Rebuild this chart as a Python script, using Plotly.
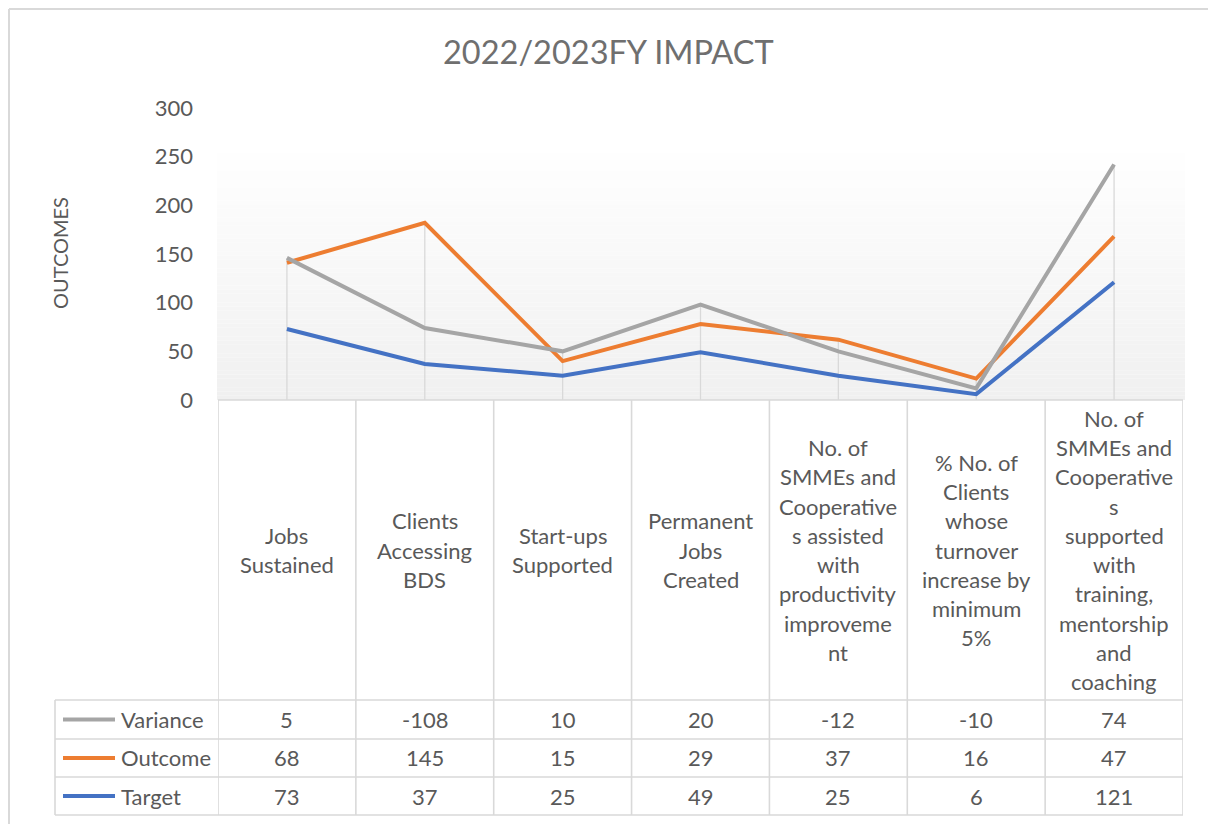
import numpy as np
import plotly.graph_objects as go

# ---------------- data ----------------
categories = [
    "Jobs\nSustained",
    "Clients\nAccessing\nBDS",
    "Start-ups\nSupported",
    "Permanent\nJobs\nCreated",
    "No. of\nSMMEs and\nCooperative\ns assisted\nwith\nproductivity\nimproveme\nnt",
    "% No. of\nClients\nwhose\nturnover\nincrease by\nminimum\n5%",
    "No. of\nSMMEs and\nCooperative\ns\nsupported\nwith\ntraining,\nmentorship\nand\ncoaching",
]
target = [73, 37, 25, 49, 25, 6, 121]
outcome = [68, 145, 15, 29, 37, 16, 47]
variance = [5, -108, 10, 20, -12, -10, 74]
y_ticks = [0, 50, 100, 150, 200, 250, 300]
title_text = "2022/2023FY IMPACT"
y_title = "OUTCOMES"

# ---------------- styling ----------------
FONT = "Lato"
TXT = "#595959"
GRID = "#d9d9d9"
C_VAR, C_OUT, C_TGT = "#a5a5a5", "#ed7d31", "#4472c4"
FS = 22

W, H = 1208, 824
PL, PR, PT, PB = 218, 1183, 108, 400


def xp(px):
    return (px - PL) / (PR - PL)


def yp(py):
    return (PB - py) / (PB - PT)


x = list(range(len(categories)))
stacked = np.cumsum(np.array([target, outcome, variance]), axis=0)
tops = stacked.max(axis=0)

fig = go.Figure()

# drop lines
dx, dy = [], []
for i, t in zip(x, tops):
    dx += [i, i, None]
    dy += [0, t, None]
fig.add_trace(go.Scatter(x=dx, y=dy, mode="lines", line=dict(color=GRID, width=1.3),
                         hoverinfo="skip", showlegend=False))

for name, vals, col in [("Target", target, C_TGT), ("Outcome", outcome, C_OUT), ("Variance", variance, C_VAR)]:
    fig.add_trace(go.Scatter(x=x, y=vals, name=name, mode="lines", stackgroup="s", fill="none",
                             line=dict(color=col, width=4), showlegend=False))

shapes = []
# plot-area gradient
g_top, g_bot, nb = 145, 400, 60
for k in range(nb):
    y0 = g_top + (g_bot - g_top) * k / nb
    y1 = g_top + (g_bot - g_top) * (k + 1) / nb
    f = (k + 0.5) / nb
    c = int(round(255 - 15 * f))
    shapes.append(dict(type="rect", xref="paper", yref="paper", x0=xp(217), x1=xp(1185),
                       y0=yp(y1), y1=yp(y0), fillcolor=f"rgb({c},{c},{c})",
                       line=dict(width=0), layer="below"))

# outer chart border
shapes.append(dict(type="line", xref="paper", yref="paper", x0=xp(9), x1=xp(1230), y0=yp(9), y1=yp(9),
                   line=dict(color=GRID, width=2)))
shapes.append(dict(type="line", xref="paper", yref="paper", x0=xp(9), x1=xp(9), y0=yp(9), y1=yp(830),
                   line=dict(color=GRID, width=2)))

# data table grid
rows = [400, 700, 739, 777, 815]
for r in rows:
    x0 = PL if r == 400 else 55
    shapes.append(dict(type="line", xref="paper", yref="paper", x0=xp(x0), x1=xp(PR), y0=yp(r), y1=yp(r),
                       line=dict(color=GRID, width=1.6)))
for i in range(len(categories) + 1):
    shapes.append(dict(type="line", xref="x", yref="paper", x0=i - 0.5, x1=i - 0.5, y0=yp(400), y1=yp(815),
                       line=dict(color=GRID, width=1.6)))
shapes.append(dict(type="line", xref="paper", yref="paper", x0=xp(55), x1=xp(55), y0=yp(700), y1=yp(815),
                   line=dict(color=GRID, width=1.6)))

annotations = []
# category labels
LS = 29.3
for i, lab in enumerate(categories):
    lines = lab.split("\n")
    n = len(lines)
    for k, ln in enumerate(lines):
        cy = 550 + (k - (n - 1) / 2) * LS
        annotations.append(dict(xref="x", yref="paper", x=i, y=yp(cy), text=ln, showarrow=False,
                                xanchor="center", yanchor="middle",
                                font=dict(family=FONT, size=FS, color=TXT)))

# series rows
row_centers = [719.5, 758, 796]
for (name, vals, col), cy in zip([("Variance", variance, C_VAR), ("Outcome", outcome, C_OUT),
                                  ("Target", target, C_TGT)], row_centers):
    shapes.append(dict(type="line", xref="paper", yref="paper", x0=xp(63), x1=xp(115), y0=yp(cy), y1=yp(cy),
                       line=dict(color=col, width=4)))
    annotations.append(dict(xref="paper", yref="paper", x=xp(119), y=yp(cy), text=name, showarrow=False,
                            xanchor="left", yanchor="middle", font=dict(family=FONT, size=FS, color=TXT)))
    for i, v in enumerate(vals):
        annotations.append(dict(xref="x", yref="paper", x=i, y=yp(cy), text=str(v), showarrow=False,
                                xanchor="center", yanchor="middle", font=dict(family=FONT, size=FS, color=TXT)))

# titles
annotations.append(dict(xref="paper", yref="paper", x=xp(608), y=yp(52), text=title_text, showarrow=False,
                        xanchor="center", yanchor="middle", font=dict(family=FONT, size=32.5, color="#6f6f6f")))
annotations.append(dict(xref="paper", yref="paper", x=xp(60), y=yp(253), text=y_title, showarrow=False,
                        textangle=-90, xanchor="center", yanchor="middle",
                        font=dict(family=FONT, size=20, color=TXT)))

fig.update_layout(
    width=W, height=H,
    margin=dict(l=PL, r=W - PR, t=PT, b=H - PB, autoexpand=False),
    paper_bgcolor="white", plot_bgcolor="rgba(0,0,0,0)",
    shapes=shapes, annotations=annotations, showlegend=False,
    xaxis=dict(range=[-0.5, len(categories) - 0.5], showticklabels=False, showgrid=False,
               zeroline=False, showline=False, ticks="", fixedrange=True),
    yaxis=dict(range=[0, 300], tickvals=y_ticks, showgrid=False, zeroline=False, showline=False,
               ticks="", ticklabelstandoff=24, tickfont=dict(family=FONT, size=FS, color=TXT),
               fixedrange=True),
)

fig.write_html("out.html")
